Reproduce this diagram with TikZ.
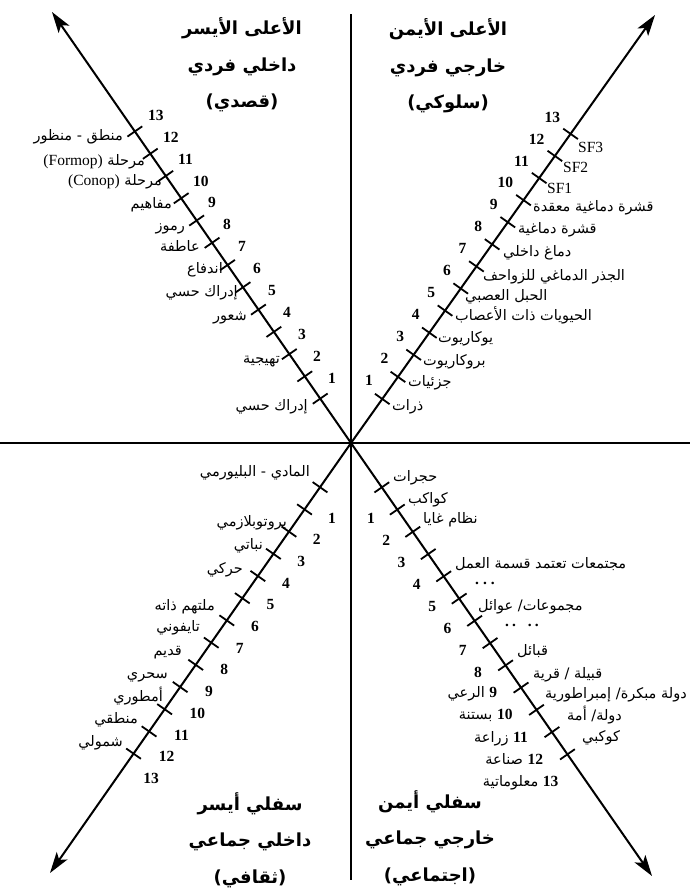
\documentclass[tikz,border=0pt]{standalone}
\usepackage{fontspec}
\setmainfont{Liberation Serif}
\newfontfamily\arabicfont[Script=Arabic]{DejaVu Sans}
\TeXXeTstate=1
\usetikzlibrary{calc,arrows.meta}
\newcommand\rtl[1]{\beginR#1\endR}
\newcommand\arlabfont{\arabicfont\fontsize{14.5}{16}\selectfont}
\newcommand\numfont{\rmfamily\bfseries\fontsize{15.5}{15.5}\selectfont}
\newcommand\latfont{\rmfamily\fontsize{15.5}{15.5}\selectfont}
\newcommand\titlefont{\arabicfont\bfseries\fontsize{18}{36.5}\selectfont}
\newcommand\nb[1]{{\numfont #1}}
\begin{document}
\begin{tikzpicture}[x=1pt,y=-1pt,
  axis/.style={line width=2pt},
  arr/.style={line width=2pt,-{Stealth[length=21pt,width=13pt,inset=5pt]}},
  tk/.style={line width=1.8pt},
  lab/.style={inner sep=0pt,font=\arlabfont,text height=10pt,text depth=4pt},
  labl/.style={lab,anchor=east},
  labr/.style={lab,anchor=west},
  num/.style={inner sep=0pt,font=\numfont},
  sf/.style={inner sep=0pt,font=\latfont},
  title/.style={align=center,font=\titlefont,inner sep=0pt}]
\useasboundingbox (0,0) rectangle (690,889);
% axes
\coordinate (c) at (351,443);
\coordinate (hl) at (0,443);
\coordinate (hr) at (690,443);
\coordinate (vt) at (351,14);
\coordinate (vb) at (351,880);
\draw[axis] (hl) -- (hr);
\draw[axis] (vt) -- (vb);
\coordinate (ul) at (52,12);
\coordinate (ur) at (655,15);
\coordinate (ll) at (50,873);
\coordinate (lr) at (652,876);
\foreach \q in {ul,ur,ll,lr}{\draw[arr] (c) -- (\q);}
% ticks
\foreach \q in {ul,ur,ll,lr}{
  \foreach \k in {0,...,12}{
    \pgfmathsetmacro\dd{54+27.1*\k}
    \coordinate (\q\k) at ($(c)!\dd pt!(\q)$);
    \draw[tk] ($(\q\k)!9pt!90:(c)$) -- ($(\q\k)!9pt!-90:(c)$);
  }}
% numbers
\foreach \k in {1,...,13}{
  \node[num,anchor=west] (uln\k) at ({343-15*\k},{400-21.9*\k}) {\k};
  \node[num,anchor=east] (urn\k) at ({357.4+15.6*\k},{401.9-21.9*\k}) {\k};
  \node[num,anchor=west] (lln\k) at ({343.4-15.4*\k},{496.3+21.7*\k}) {\k};
}
\foreach \k in {1,...,8}{
  \node[num,anchor=east] (lrn\k) at ({359.7+15.3*\k},{495.9+22.1*\k}) {\k};
}
% titles
\node[title] (tul) at (242,65) {\rtl{الأعلى الأيسر}\\\rtl{داخلي فردي}\\\rtl{(قصدي)}};
\node[title] (tur) at (448,66) {\rtl{الأعلى الأيمن}\\\rtl{خارجي فردي}\\\rtl{(سلوكي)}};
\node[title] (tll) at (250,840) {\rtl{سفلي أيسر}\\\rtl{داخلي جماعي}\\\rtl{(ثقافي)}};
\node[title] (tlr) at (430,838) {\rtl{سفلي أيمن}\\\rtl{خارجي جماعي}\\\rtl{(اجتماعي)}};
% upper-left labels
\node[labl] (ula0) at (308,407) {\rtl{إدراك حسي}};
\node[labl] (ula2) at (280,360) {\rtl{تهيجية}};
\node[labl] (ula4) at (247,317) {\rtl{شعور}};
\node[labl] (ula5) at (238,293) {\rtl{إدراك حسي}};
\node[labl] (ula6) at (223,270) {\rtl{اندفاع}};
\node[labl] (ula7) at (200,248) {\rtl{عاطفة}};
\node[labl] (ula8) at (185,227) {\rtl{رموز}};
\node[labl] (ula9) at (172,205) {\rtl{مفاهيم}};
\node[labl] (ula10) at (162,182) {\rtl{مرحلة \beginL{\latfont(Conop)}\endL}};
\node[labl] (ula11) at (145,162) {\rtl{مرحلة \beginL{\latfont(Formop)}\endL}};
\node[labl] (ula12) at (123,137) {\rtl{منطق - منظور}};
% upper-right labels
\node[labr] (ura0) at (392,407) {\rtl{ذرات}};
\node[labr] (ura1) at (408,383) {\rtl{جزئيات}};
\node[labr] (ura2) at (423,362) {\rtl{بروكاريوت}};
\node[labr] (ura3) at (438,339) {\rtl{يوكاريوت}};
\node[labr] (ura4) at (455,317) {\rtl{الحيويات ذات الأعصاب}};
\node[labr] (ura5) at (465,297) {\rtl{الحبل العصبي}};
\node[labr] (ura6) at (483,277) {\rtl{الجذر الدماغي للزواحف}};
\node[labr] (ura7) at (503,253) {\rtl{دماغ داخلي}};
\node[labr] (ura8) at (518,230) {\rtl{قشرة دماغية}};
\node[labr] (ura9) at (533,208) {\rtl{قشرة دماغية معقدة}};
\node[sf,anchor=west] (ura10) at (547,188) {SF1};
\node[sf,anchor=west] (ura11) at (563,167) {SF2};
\node[sf,anchor=west] (ura12) at (578,147) {SF3};
% lower-left labels
\node[labl] (lla0) at (310,473) {\rtl{المادي - البليورمي}};
\node[labl] (lla1) at (287,523) {\rtl{بروتوبلازمي}};
\node[labl] (lla2) at (263,546) {\rtl{نباتي}};
\node[labl] (lla3) at (243,570) {\rtl{حركي}};
\node[labl] (lla4) at (215,607) {\rtl{ملتهم ذاته}};
\node[labl] (lla5) at (200,628) {\rtl{تايفوني}};
\node[labl] (lla6) at (182,652) {\rtl{قديم}};
\node[labl] (lla7) at (168,675) {\rtl{سحري}};
\node[labl] (lla8) at (163,698) {\rtl{أمطوري}};
\node[labl] (lla9) at (138,720) {\rtl{منطقي}};
\node[labl] (lla10) at (123,743) {\rtl{شمولي}};
% lower-right labels
\node[labr] (lra0) at (393,478) {\rtl{حجرات}};
\node[labr] (lra1) at (408,500) {\rtl{كواكب}};
\node[labr] (lra2) at (423,520) {\rtl{نظام غايا}};
\node[labr] (lra3) at (455,565) {\rtl{مجتمعات تعتمد قسمة العمل}};
\node[num,anchor=west] (lra4) at (475,583) {.\hspace{4pt}.\hspace{4pt}.};
\node[labr] (lra5) at (478,607) {\rtl{مجموعات/ عوائل}};
\node[num,anchor=west] (lra6) at (505,625) {.\hspace{3pt}.\hspace{12pt}.\hspace{3pt}.};
\node[labr] (lra7) at (517,652) {\rtl{قبائل}};
\node[labr] (lra8) at (533,675) {\rtl{قبيلة / قرية}};
\node[labr] (lra9) at (545,695) {\rtl{دولة مبكرة/ إمبراطورية}};
\node[labr] (lra10) at (567,717) {\rtl{دولة/ أمة}};
\node[labr] (lra11) at (582,738) {\rtl{كوكبي}};
\node[labl] (lrn9) at ({359.7+15.3*9},{495.9+22.1*9}) {\rtl{\nb{9} الرعي}};
\node[labl] (lrn10) at ({359.7+15.3*10},{495.9+22.1*10}) {\rtl{\nb{10} بستنة}};
\node[labl] (lrn11) at ({359.7+15.3*11},{495.9+22.1*11}) {\rtl{\nb{11} زراعة}};
\node[labl] (lrn12) at ({359.7+15.3*12},{495.9+22.1*12}) {\rtl{\nb{12} صناعة}};
\node[labl] (lrn13) at ({359.7+15.3*13},{495.9+22.1*13}) {\rtl{\nb{13} معلوماتية}};
\end{tikzpicture}
\end{document}
